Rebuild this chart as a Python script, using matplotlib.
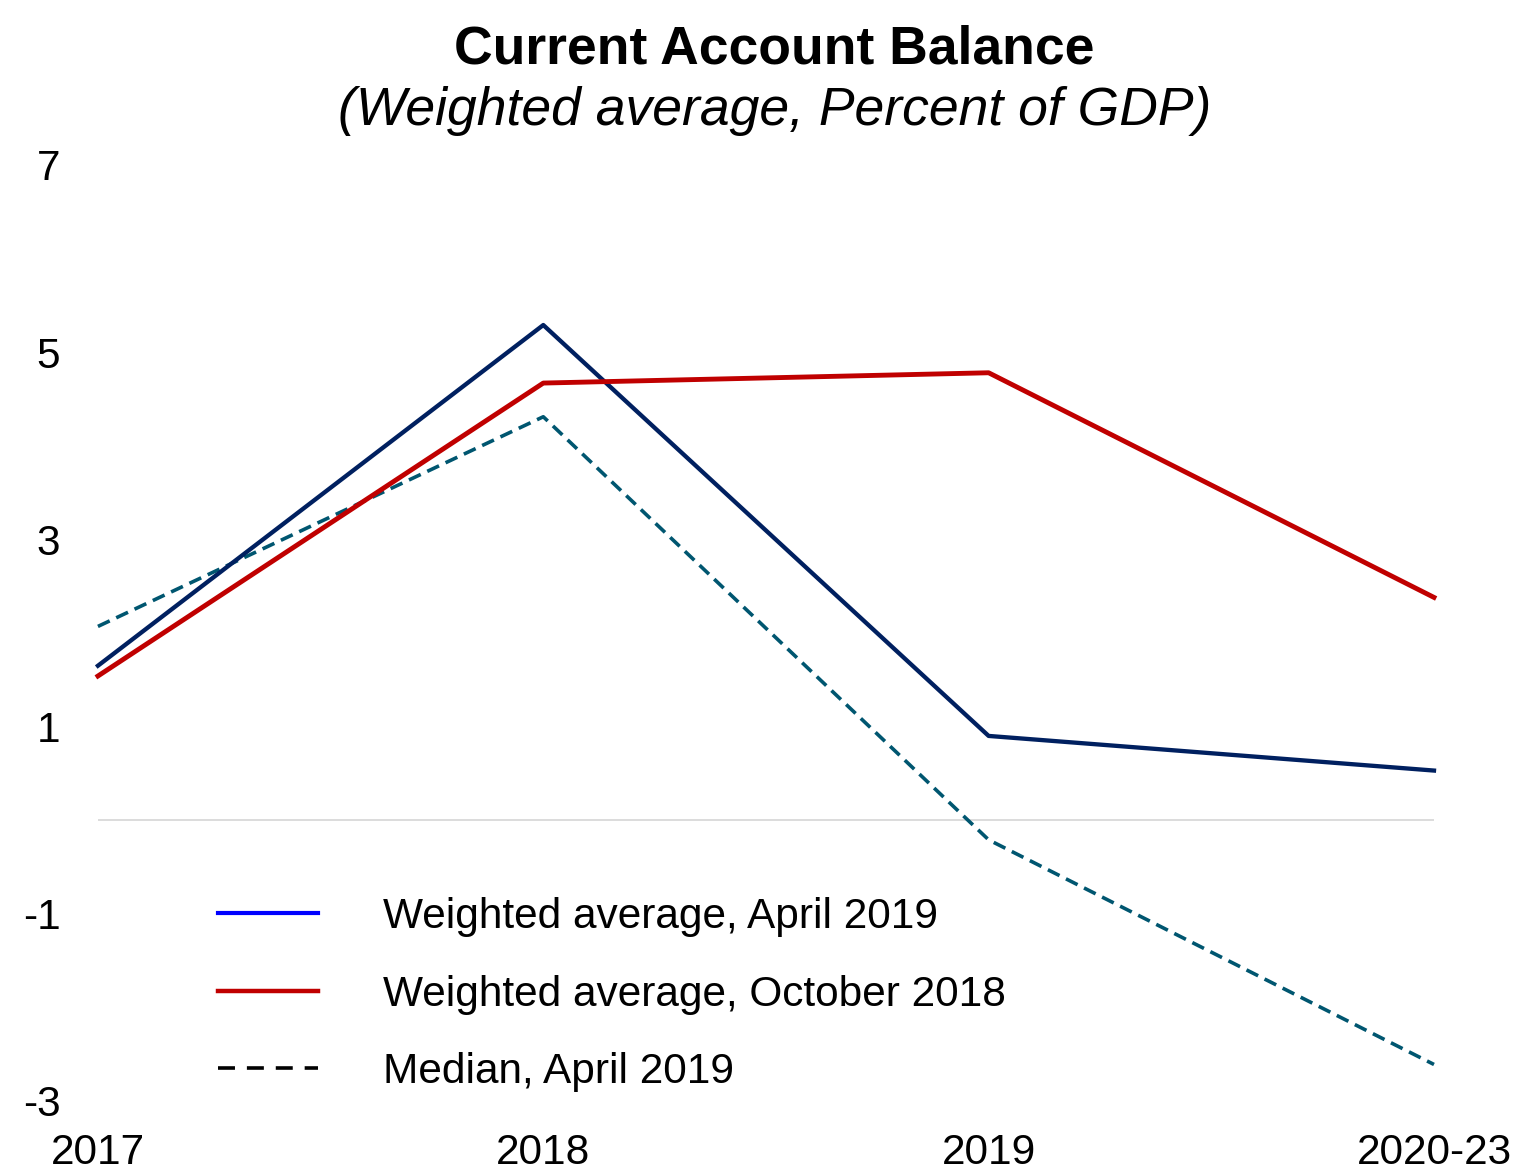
import numpy as np
import matplotlib.pyplot as plt
from matplotlib.lines import Line2D

plt.rcParams['font.family'] = ['Liberation Sans', 'DejaVu Sans']

# Data
years = ['2017', '2018', '2019', '2020-23']
wa_apr19 = [1.65, 5.29, 0.90, 0.53]
wa_oct18 = [1.54, 4.67, 4.78, 2.38]
median_apr19 = [2.07, 4.31, -0.21, -2.61]

fig = plt.figure(figsize=(15.16, 11.7), dpi=100)
ax = fig.add_axes([0.0646, 0.059, 0.8813, 0.8])

x = np.arange(len(years))
ax.axhline(0, color='#d9d9d9', lw=1.3, zorder=1)
ax.plot(x, median_apr19, color='#005670', lw=2.6, dashes=(3.6, 2.0), clip_on=False, zorder=2)
ax.plot(x, wa_apr19, color='#002060', lw=3.1, clip_on=False, zorder=3)
ax.plot(x, wa_oct18, color='#c00000', lw=3.5, clip_on=False, zorder=4)

ax.set_xlim(0, 3)
ax.set_ylim(-3, 7)
ax.set_xticks(x)
ax.set_xticklabels(years)
ax.set_yticks([-3, -1, 1, 3, 5, 7])
ax.set_yticklabels(['-3', '-1', '1', '3', '5', '7'])
ax.tick_params(axis='both', length=0, labelsize=30.5)
ax.tick_params(axis='x', pad=23)
ax.tick_params(axis='y', pad=27)
for s in ax.spines.values():
    s.set_visible(False)

handles = [
    Line2D([], [], color='#0000ff', lw=3.0),
    Line2D([], [], color='#c00000', lw=3.2),
    Line2D([], [], color='black', lw=2.6, dashes=(4.7, 3.3)),
]
labels = ['Weighted average, April 2019', 'Weighted average, October 2018', 'Median, April 2019']
ax.legend(handles, labels, loc='upper left', bbox_to_anchor=(0.09, 0.218), frameon=False,
          fontsize=30.5, handlelength=2.36, handletextpad=1.53, labelspacing=0.89,
          borderaxespad=0, borderpad=0)

fig.text(0.511, 0.958, 'Current Account Balance', ha='center', va='center',
         fontsize=38.5, fontweight='bold')
fig.text(0.511, 0.905, '(Weighted average, Percent of GDP)', ha='center', va='center',
         fontsize=38.5, style='italic')

plt.savefig('out.png', dpi=100)
